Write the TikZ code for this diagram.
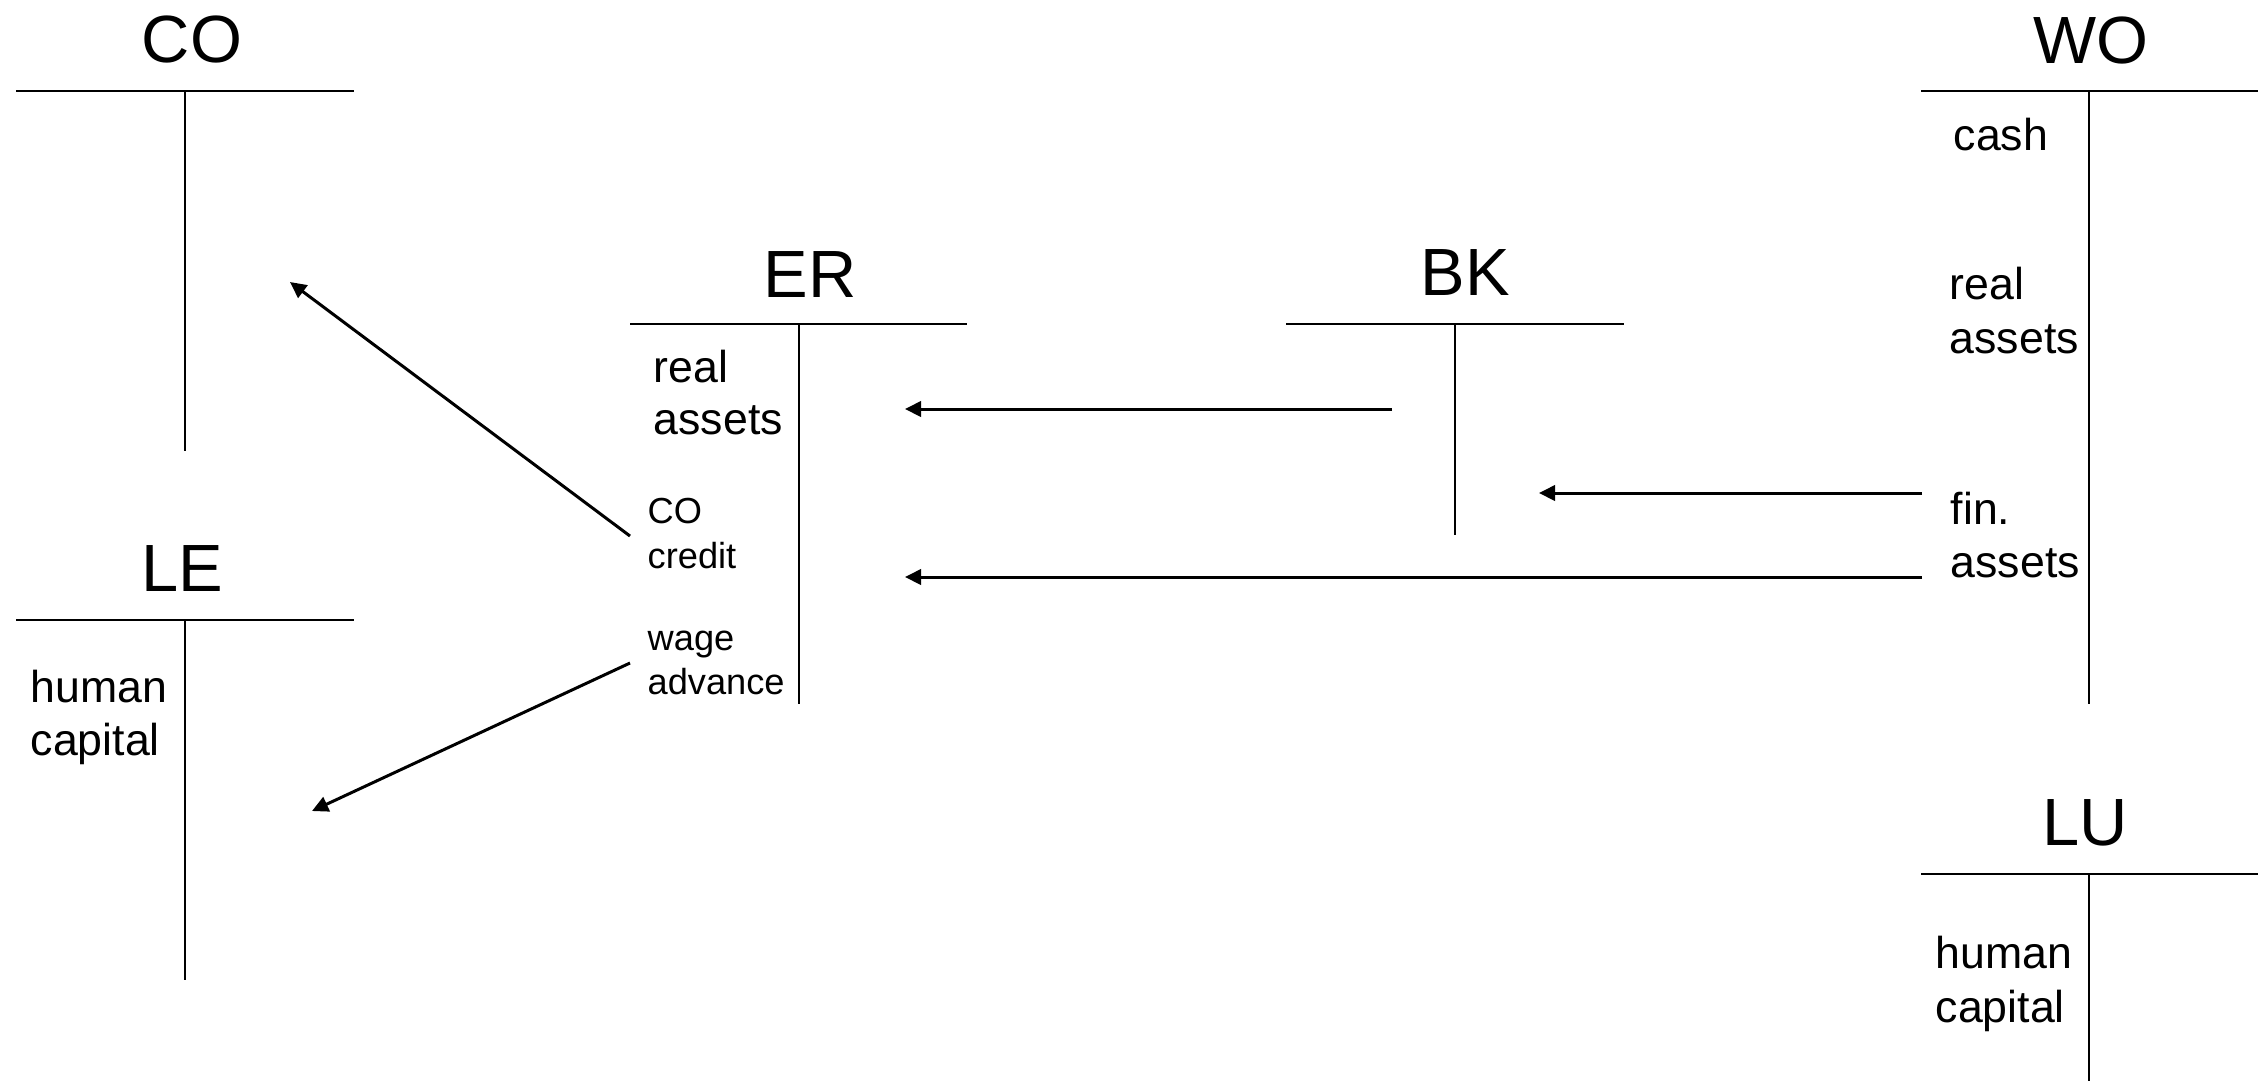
\documentclass[tikz,border=0pt]{standalone}
\usepackage{fontspec}
\setmainfont{Liberation Sans}
\usetikzlibrary{arrows.meta}
\begin{document}
\begin{tikzpicture}[x=0.01cm,y=-0.01cm,
  rule/.style={line width=0.75pt},
  flow/.style={line width=0.85pt,-{Triangle[length=4.6pt,width=4.4pt]}},
  title/.style={font=\fontsize{19}{22}\selectfont,inner sep=0pt,anchor=base},
  big/.style={font=\fontsize{12.7}{14.5}\selectfont,inner sep=0pt,anchor=base west},
  small/.style={font=\fontsize{10.3}{12.5}\selectfont,inner sep=0pt,anchor=base west}]
\useasboundingbox (0,0) rectangle (2261,1081);

% T-accounts: header rule and stem
\draw[rule] (16,91) -- (354,91) (185,91) -- (185,451);     % CO
\draw[rule] (16,620) -- (354,620) (185,620) -- (185,980);  % LE
\draw[rule] (630,324) -- (967,324) (799,324) -- (799,704); % ER
\draw[rule] (1286,324) -- (1624,324) (1455,324) -- (1455,535); % BK
\draw[rule] (1921,91) -- (2258,91) (2089,91) -- (2089,704);  % WO
\draw[rule] (1921,874) -- (2258,874) (2089,874) -- (2089,1081); % LU

% sector titles
\node[title] (co) at (192,62) {CO};
\node[title] (le) at (182,591) {LE};
\node[title] (er) at (810,297) {ER};
\node[title] (bk) at (1465,295) {BK};
\node[title] (wo) at (2091,63) {WO};
\node[title] (lu) at (2085,845) {LU};

% entries
\node[big] (erreal1) at (653,382) {real};
\node[big] (erreal2) at (653,434) {assets};
\node[small] (ercoc1) at (647,523) {CO};
\node[small] (ercoc2) at (647,568) {credit};
\node[small] (erwage1) at (647,650) {wage};
\node[small] (erwage2) at (647,694) {advance};

\node[big] (wocash) at (1953,150) {cash};
\node[big] (woreal1) at (1949,299) {real};
\node[big] (woreal2) at (1949,353) {assets};
\node[big] (wofin1) at (1950,524) {fin.};
\node[big] (wofin2) at (1950,577) {assets};

\node[big] (lehc1) at (30,702) {human};
\node[big] (lehc2) at (30,755) {capital};
\node[big] (luhc1) at (1935,968) {human};
\node[big] (luhc2) at (1935,1022) {capital};

% flow end points
\coordinate (cocredit) at (630,536);
\coordinate (coin) at (290,282);
\coordinate (wageout) at (630,663);
\coordinate (lein) at (312,811);
\coordinate (bkout) at (1392,409);
\coordinate (erreal) at (905,409);
\coordinate (wofinA) at (1922,493);
\coordinate (bkin) at (1539,493);
\coordinate (wofinB) at (1922,577);
\coordinate (erfin) at (905,577);

% flows
\draw[flow] (cocredit) -- (coin);
\draw[flow] (wageout) -- (lein);
\draw[flow] (bkout) -- (erreal);
\draw[flow] (wofinA) -- (bkin);
\draw[flow] (wofinB) -- (erfin);
\end{tikzpicture}
\end{document}
